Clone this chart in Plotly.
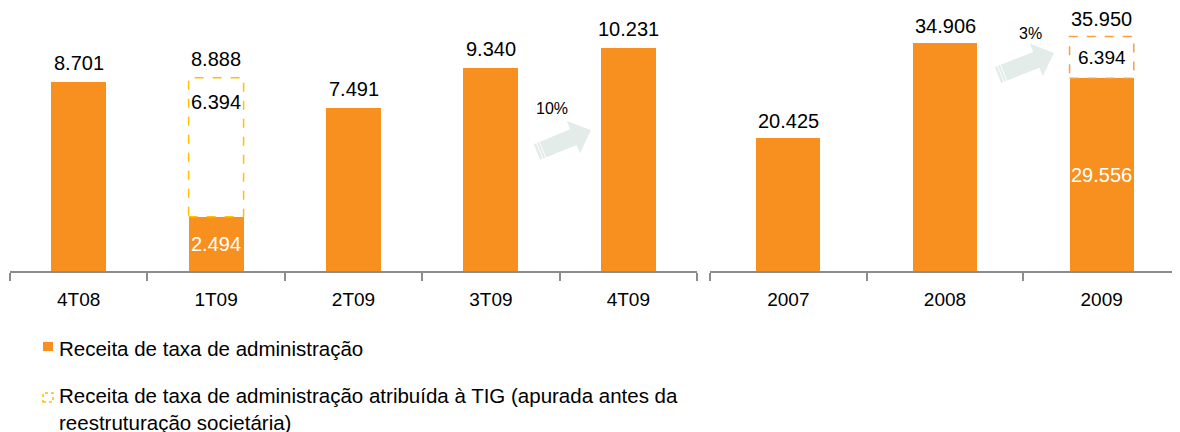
import plotly.graph_objects as go

# quarterly panel
quarters = ["4T08", "1T09", "2T09", "3T09", "4T09"]
q_fee = [8.701, 2.494, 7.491, 9.340, 10.231]
q_tig = [0, 6.394, 0, 0, 0]

# yearly panel
years = ["2007", "2008", "2009"]
y_fee = [20.425, 34.906, 29.556]
y_tig = [0, 0, 6.394]

growth_labels = ["10%", "3%"]

ORANGE = "#F7901E"
FONT = "Liberation Sans, Arial, sans-serif"
OFF = 8  # page body margin of the browser
W, H = 1180 - OFF, 432 - OFF


def fmt(v):
    return f"{v:,.3f}".replace(",", "")


def px(x, y):
    # screen pixel -> paper coords (figure margins are zero)
    return (x - OFF) / W, 1 - (y - OFF) / H


def unit(tail, tip):
    dx, dy = tip[0] - tail[0], tip[1] - tail[1]
    d = (dx ** 2 + dy ** 2) ** 0.5
    return dx / d, dy / d


def arrow_path(tail, tip, w_shaft, w_head, head_len):
    ux, uy = unit(tail, tip)
    nx, ny = -uy, ux
    bx, by = tip[0] - ux * head_len, tip[1] - uy * head_len
    pts = [
        (tail[0] + nx * w_shaft, tail[1] + ny * w_shaft),
        (bx + nx * w_shaft, by + ny * w_shaft),
        (bx + nx * w_head, by + ny * w_head),
        tip,
        (bx - nx * w_head, by - ny * w_head),
        (bx - nx * w_shaft, by - ny * w_shaft),
        (tail[0] - nx * w_shaft, tail[1] - ny * w_shaft),
    ]
    pp = [px(*p) for p in pts]
    return "M " + " L ".join(f"{a:.5f},{b:.5f}" for a, b in pp) + " Z"


fig = go.Figure()

fig.add_trace(go.Bar(x=quarters, y=q_fee, marker=dict(color=ORANGE, line_width=0),
                     width=0.4, xaxis="x", yaxis="y", showlegend=False))
fig.add_trace(go.Bar(x=quarters, y=q_tig, marker=dict(color="white", line_width=0),
                     width=0.4, xaxis="x", yaxis="y", showlegend=False))
fig.add_trace(go.Bar(x=years, y=y_fee, marker=dict(color=ORANGE, line_width=0),
                     width=0.41, xaxis="x2", yaxis="y2", showlegend=False))
fig.add_trace(go.Bar(x=years, y=y_tig, marker=dict(color="white", line_width=0),
                     width=0.41, xaxis="x2", yaxis="y2", showlegend=False))

annotations = []
shapes = []

# quarterly labels and dashed boxes
for i, (f, t) in enumerate(zip(q_fee, q_tig)):
    total = round(f + t, 3)
    annotations.append(dict(x=i, y=total, xref="x", yref="y", text=fmt(total),
                            showarrow=False, yanchor="bottom", yshift=6,
                            font=dict(size=20, color="black")))
    if t > 0:
        annotations.append(dict(x=i, y=f / 2, xref="x", yref="y", text=fmt(f),
                                showarrow=False, font=dict(size=20, color="white")))
        annotations.append(dict(x=i, y=total, xref="x", yref="y", text=fmt(t),
                                showarrow=False, yanchor="top", yshift=-11,
                                font=dict(size=20, color="black")))
        shapes.append(dict(type="rect", xref="x", yref="y", x0=i - 0.2, x1=i + 0.2,
                           y0=f, y1=total, line=dict(color="#FFC000", width=1.5, dash="dash"),
                           fillcolor="rgba(0,0,0,0)"))

# yearly labels and dashed boxes
for i, (f, t) in enumerate(zip(y_fee, y_tig)):
    total = round(f + t, 3)
    annotations.append(dict(x=i, y=total, xref="x2", yref="y2", text=fmt(total),
                            showarrow=False, yanchor="bottom", yshift=4,
                            font=dict(size=20, color="black")))
    if t > 0:
        annotations.append(dict(x=i, y=f / 2, xref="x2", yref="y2", text=fmt(f),
                                showarrow=False, font=dict(size=20, color="white")))
        annotations.append(dict(x=i, y=f + t / 2, xref="x2", yref="y2", text=fmt(t),
                                showarrow=False, font=dict(size=19, color="black")))
        shapes.append(dict(type="rect", xref="x2", yref="y2", x0=i - 0.205, x1=i + 0.205,
                           y0=f, y1=total, line=dict(color="#F7A040", width=1.5, dash="dash"),
                           fillcolor="rgba(0,0,0,0)"))

# growth arrows (screen pixels: tail centre, tip, label centre)
arrows = [((537, 152), (591, 130), (552, 108)),
          ((998, 75), (1054, 53), (1030, 33))]
for (tail, tip, lab), txt in zip(arrows, growth_labels):
    shapes.append(dict(type="path", xref="paper", yref="paper",
                       path=arrow_path(tail, tip, 8.5, 17.5, 19),
                       fillcolor="#E3ECE9", line=dict(width=0)))
    # thin light stripes near the tail
    ux, uy = unit(tail, tip)
    nx, ny = -uy, ux
    for s in (3, 6):
        cx, cy = tail[0] + ux * s, tail[1] + uy * s
        a = px(cx + nx * 9, cy + ny * 9)
        b = px(cx - nx * 9, cy - ny * 9)
        shapes.append(dict(type="line", xref="paper", yref="paper",
                           x0=a[0], y0=a[1], x1=b[0], y1=b[1],
                           line=dict(color="white", width=1)))
    lx, ly = px(*lab)
    annotations.append(dict(x=lx, y=ly, xref="paper", yref="paper", text=txt,
                            xanchor="center", yanchor="middle",
                            showarrow=False, font=dict(size=16, color="black")))

# legend (drawn by hand so the text wraps like the original)
x0, y0 = px(43, 342)
x1, y1 = px(53, 351)
shapes.append(dict(type="rect", xref="paper", yref="paper", x0=x0, x1=x1, y0=y1, y1=y0,
                   fillcolor=ORANGE, line=dict(width=0)))
x0, y0 = px(43, 393)
x1, y1 = px(53, 402)
shapes.append(dict(type="rect", xref="paper", yref="paper", x0=x0, x1=x1, y0=y1, y1=y0,
                   fillcolor="white", line=dict(color="#FFC000", width=1.5, dash="dot")))
lx, ly = px(57, 348)
annotations.append(dict(x=lx, y=ly, xref="paper", yref="paper", xanchor="left",
                        yanchor="middle",
                        text="Receita de taxa de administração", showarrow=False,
                        font=dict(size=20.5, color="black")))
lx, ly = px(57, 382)
annotations.append(dict(x=lx, y=ly, xref="paper", yref="paper", xanchor="left", yanchor="top",
                        align="left",
                        text="Receita de taxa de administração atribuída à TIG (apurada antes da"
                             "<br>reestruturação societária)",
                        showarrow=False, font=dict(size=20.5, color="black")))

axis_common = dict(type="category", showline=True, linecolor="#8C8C8C", linewidth=2,
                   ticks="outside", tickson="boundaries", ticklen=8, tickcolor="#8C8C8C",
                   tickwidth=2, ticklabelstandoff=10, tickfont=dict(size=19, color="black"),
                   showgrid=False, zeroline=False, fixedrange=True, automargin=False)

xl0, _ = px(10, 0)
xl1, _ = px(697, 0)
xr0, _ = px(710, 0)
_, yd0 = px(0, 271)
_, yd1 = px(0, 10)

fig.update_layout(
    width=W, height=H,
    margin=dict(l=0, r=0, t=0, b=0, autoexpand=False),
    paper_bgcolor="white", plot_bgcolor="white",
    font=dict(family=FONT, color="black"),
    barmode="stack",
    showlegend=False,
    xaxis=dict(domain=[xl0, xl1], anchor="y", range=[-0.5, len(quarters) - 0.5], **axis_common),
    xaxis2=dict(domain=[xr0, 1.0], anchor="y2", range=[-0.5, len(years) - 0.5], **axis_common),
    yaxis=dict(domain=[yd0, yd1], range=[0, 12], visible=False, fixedrange=True,
               automargin=False),
    yaxis2=dict(domain=[yd0, yd1], range=[0, 40], visible=False, anchor="x2", fixedrange=True,
                automargin=False),
    annotations=annotations,
    shapes=shapes,
)

fig.write_html("out.html")
